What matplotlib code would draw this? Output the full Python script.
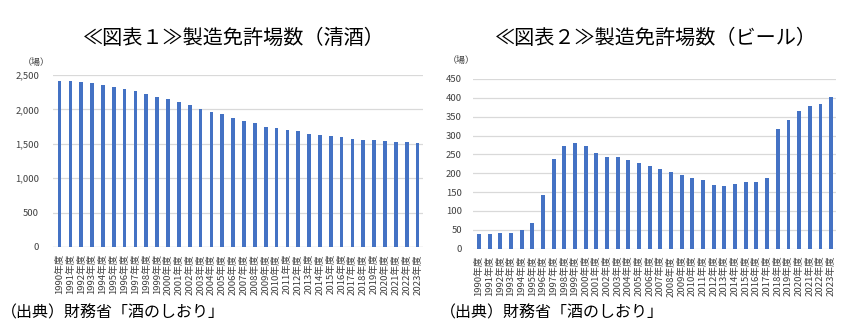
# -*- coding: utf-8 -*-
import numpy as np
import matplotlib
matplotlib.use("Agg")
import matplotlib.pyplot as plt
from matplotlib.ticker import FuncFormatter

plt.rcParams['font.family'] = ['Noto Sans CJK JP', 'DejaVu Sans']

years = [str(y) + "年度" for y in range(1990, 2024)]

# 清酒 製造免許場数
sake = [2420, 2406, 2392, 2377, 2358, 2329, 2295, 2261, 2218, 2184,
        2146, 2107, 2068, 2011, 1967, 1934, 1880, 1837, 1798, 1750,
        1726, 1702, 1683, 1639, 1625, 1615, 1601, 1577, 1562, 1548,
        1539, 1529, 1524, 1514]

# ビール 製造免許場数
beer = [40, 40, 42, 42, 49, 68, 143, 238, 273, 281,
        272, 254, 244, 243, 234, 228, 220, 212, 203, 195,
        187, 182, 168, 166, 172, 178, 178, 187, 318, 341,
        366, 379, 383, 402]

W, H = 861, 328
bar_col = "#4472C4"
grid_col = "#D9D9D9"
txt_col = "#404040"

fig = plt.figure(figsize=(W / 100, H / 100), dpi=100)


def px_axes(x0, y_top, x1, y_bot):
    return fig.add_axes([x0 / W, 1 - y_bot / H, (x1 - x0) / W, (y_bot - y_top) / H])


def style(ax, ymax, step, fmt):
    ax.set_ylim(0, ymax)
    ax.set_yticks(np.arange(0, ymax + 1, step))
    ax.yaxis.set_major_formatter(FuncFormatter(fmt))
    ax.grid(axis="y", color=grid_col, linewidth=0.9)
    ax.set_axisbelow(True)
    for s in ax.spines.values():
        s.set_visible(False)
    ax.tick_params(axis="both", length=0, colors=txt_col)
    ax.tick_params(axis="y", labelsize=6.8, pad=10)
    ax.tick_params(axis="x", labelsize=6.9, pad=5)
    ax.set_xticks(range(len(years)))
    ax.set_xticklabels(years, rotation=90, linespacing=0.8)


# 図表1
ax1 = px_axes(53, 75, 423, 247)
ax1.bar(range(len(sake)), sake, width=0.34, color=bar_col, zorder=2)
ax1.set_xlim(-0.6, 33.5)
style(ax1, 2500, 500, lambda v, p: f"{int(v):,}")
ax1.axhline(0, color=grid_col, linewidth=0.9, zorder=1)
fig.text(234 / W, 1 - 38 / H, "≪図表１≫製造免許場数（清酒）", ha="center", va="center",
         fontsize=14.5, color="#000000")
fig.text(36 / W, 1 - 62 / H, "（場）", ha="center", va="center", fontsize=6.5, color=txt_col)
fig.text(1 / W, 1 - 313 / H, "（出典）財務省「酒のしおり」", ha="left", va="center",
         fontsize=11.5, color="#000000")

# 図表2
ax2 = px_axes(473, 79, 836, 248.7)
ax2.bar(range(len(beer)), beer, width=0.37, color=bar_col, zorder=2)
ax2.set_xlim(-0.55, 33.45)
style(ax2, 450, 50, lambda v, p: f"{int(v)}")
ax2.tick_params(axis="y", pad=8)
fig.text(656 / W, 1 - 38 / H, "≪図表２≫製造免許場数（ビール）", ha="center", va="center",
         fontsize=14.5, color="#000000")
fig.text(461 / W, 1 - 60 / H, "（場）", ha="center", va="center", fontsize=6.5, color=txt_col)
fig.text(440 / W, 1 - 313 / H, "（出典）財務省「酒のしおり」", ha="left", va="center",
         fontsize=11.5, color="#000000")

fig.savefig("out.png", dpi=100, facecolor="white")
